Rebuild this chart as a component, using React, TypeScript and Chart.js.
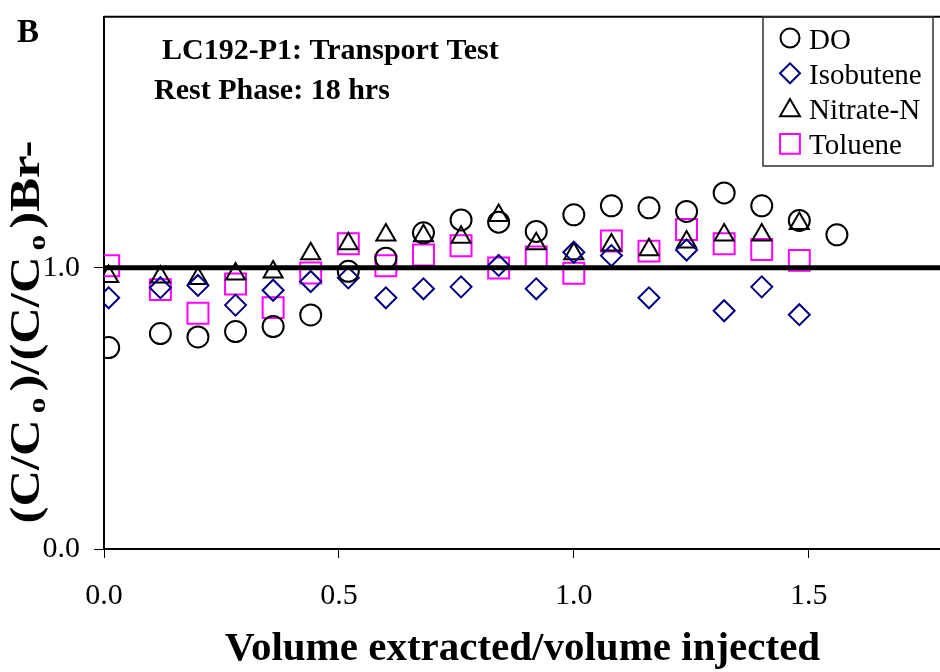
import { useEffect, useRef } from 'react';
import { Chart, registerables } from 'chart.js';
import type { Plugin } from 'chart.js';
import { drawPoint } from 'chart.js/helpers';

Chart.register(...registerables);

// volume extracted / volume injected
const volumeRatio = [0.01, 0.12, 0.2, 0.28, 0.36, 0.44, 0.52, 0.6, 0.68, 0.76, 0.84, 0.92, 1.0, 1.08, 1.16, 1.24, 1.32, 1.4, 1.48, 1.56];

// (C/Co)/(C/Co)Br- per series
const doValues = [0.716, 0.766, 0.754, 0.773, 0.791, 0.832, 0.987, 1.034, 1.124, 1.17, 1.162, 1.129, 1.188, 1.22, 1.213, 1.2, 1.266, 1.22, 1.168, 1.117];
const isobuteneValues = [0.893, 0.929, 0.937, 0.867, 0.92, 0.951, 0.964, 0.893, 0.925, 0.932, 1.008, 0.925, 1.055, 1.043, 0.893, 1.063, 0.847, 0.932, 0.833];
const nitrateValues = [0.969, 0.967, 0.962, 0.978, 0.985, 1.05, 1.085, 1.116, 1.114, 1.108, 1.186, 1.085, 1.05, 1.081, 1.064, 1.091, 1.116, 1.116, 1.157];
const tolueneValues = [1.007, 0.922, 0.838, 0.942, 0.858, 0.981, 1.085, 1.007, 1.045, 1.078, 0.999, 1.038, 0.98, 1.095, 1.059, 1.136, 1.085, 1.065, 1.026];

// reference line C/Co = 1
const refX = [0, 1.782];
const refY = [1, 1];

const xTicks = [0, 0.5, 1.0, 1.5];
const yTicks = [0, 1.0];
const X_MAX = 1.782;
const Y_MAX = 1.892;

const SERIF = '"Liberation Serif", "Times New Roman", serif';

const pts = (vals: number[]) => vals.map((y, i) => ({ x: volumeRatio[i], y }));

// chart.js adds room for the end labels; the plot here runs to the canvas edge
const noPad = (s: any) => {
  s.paddingTop = 0;
  s.paddingBottom = 0;
  s.paddingLeft = 0;
  s.paddingRight = 0;
};

const decorations: Plugin = {
  id: 'decorations',
  beforeDatasetsDraw(chart) {
    const { ctx, chartArea } = chart;
    ctx.save();
    ctx.strokeStyle = '#000';
    ctx.lineWidth = 2;
    ctx.beginPath();
    ctx.moveTo(chartArea.left, chartArea.top);
    ctx.lineTo(chartArea.right, chartArea.top);
    ctx.stroke();
    ctx.restore();
  },
  afterDraw(chart) {
    const { ctx } = chart;
    ctx.save();
    ctx.fillStyle = '#000';
    ctx.textBaseline = 'alphabetic';
    ctx.textAlign = 'left';

    // panel letter and annotation
    ctx.font = `bold 33px ${SERIF}`;
    ctx.fillText('B', 17, 42);
    ctx.font = `bold 30px ${SERIF}`;
    ctx.fillText('LC192-P1: Transport Test', 162, 59);
    ctx.fillText('Rest Phase: 18 hrs', 154, 99);

    // y axis title with subscripts
    const parts = [
      { t: '(C/C', sub: false },
      { t: 'o', sub: true },
      { t: ')/(C/C', sub: false },
      { t: 'o', sub: true },
      { t: ')Br-', sub: false },
    ];
    const mainFont = `bold 42px ${SERIF}`;
    const subFont = `bold 26px ${SERIF}`;
    const gap = 5;
    let total = 0;
    const widths = parts.map((p) => {
      ctx.font = p.sub ? subFont : mainFont;
      const w = ctx.measureText(p.t).width + (p.sub ? gap * 2 : 0);
      total += w;
      return w;
    });
    const k = 383 / total;
    ctx.translate(39, 332);
    ctx.rotate(-Math.PI / 2);
    ctx.scale(k, 1);
    let cx = -total / 2;
    parts.forEach((p, i) => {
      ctx.font = p.sub ? subFont : mainFont;
      ctx.fillText(p.t, cx + (p.sub ? gap : 0), p.sub ? 6 : 0);
      cx += widths[i];
    });
    ctx.restore();

    // legend box
    ctx.save();
    ctx.strokeStyle = '#333';
    ctx.lineWidth = 1.5;
    ctx.strokeRect(763, 17, 170, 149);
    const items = chart.data.datasets.filter((d: any) => d.label);
    const legendRadius: Record<string, number> = { circle: 9.5, rectRot: 10, triangle: 11.5, rect: 14 };
    items.forEach((d: any, i: number) => {
      const cy = 38 + i * 35.3;
      ctx.strokeStyle = d.pointBorderColor;
      ctx.fillStyle = 'rgba(0,0,0,0)';
      ctx.lineWidth = 2;
      drawPoint(ctx, {
        pointStyle: d.pointStyle,
        radius: legendRadius[d.pointStyle],
        borderWidth: 2,
        rotation: 0,
      } as any, 790, d.pointStyle === 'triangle' ? cy + 2 : cy);
      ctx.fillStyle = '#000';
      ctx.font = `29px ${SERIF}`;
      ctx.fillText(d.label, 809, cy + 10.5);
    });
    ctx.restore();
  },
};

const App = () => {
  const canvasRef = useRef<HTMLCanvasElement>(null);
  const chartRef = useRef<Chart | null>(null);

  useEffect(() => {
    if (!canvasRef.current) return;
    if (chartRef.current) chartRef.current.destroy();

    const marker = (label: string, values: number[], style: string, color: string, radius: number) => ({
      label,
      data: pts(values),
      pointStyle: style,
      pointRadius: radius,
      pointBorderWidth: 2,
      pointBorderColor: color,
      pointBackgroundColor: 'rgba(0,0,0,0)',
      order: 1,
    });

    chartRef.current = new Chart(canvasRef.current, {
      type: 'scatter',
      data: {
        datasets: [
          marker('DO', doValues, 'circle', '#000000', 10.5),
          marker('Isobutene', isobuteneValues, 'rectRot', '#000080', 10.5),
          marker('Nitrate-N', nitrateValues, 'triangle', '#000000', 11),
          marker('Toluene', tolueneValues, 'rect', '#FF00FF', 14.8),
          {
            type: 'line',
            label: '',
            data: refX.map((x, i) => ({ x, y: refY[i] })),
            borderColor: '#000',
            borderWidth: 5,
            pointRadius: 0,
            order: 0,
          } as any,
        ],
      },
      options: {
        responsive: false,
        animation: false,
        events: [],
        layout: { padding: { top: 8, left: 0, right: 0, bottom: 0 } },
        plugins: {
          legend: { display: false },
          tooltip: { enabled: false },
        },
        scales: {
          x: {
            type: 'linear',
            min: 0,
            max: X_MAX,
            afterBuildTicks: (s: any) => { s.ticks = xTicks.map((value) => ({ value })); },
            afterFit: (s: any) => { s.height = 123; noPad(s); },
            ticks: {
              color: '#000',
              font: { family: SERIF, size: 30 },
              padding: 20,
              maxRotation: 0,
              callback: (v: any) => Number(v).toFixed(1),
            },
            grid: { drawOnChartArea: false, drawTicks: true, tickLength: 9, tickColor: '#000', tickWidth: 1 },
            border: { color: '#000', width: 2 },
            title: {
              display: true,
              text: 'Volume extracted/volume injected',
              color: '#000',
              font: { family: SERIF, size: 41, weight: 'bold' },
              padding: { top: 0, bottom: -2 },
            },
          },
          y: {
            type: 'linear',
            min: 0,
            max: Y_MAX,
            afterBuildTicks: (s: any) => { s.ticks = yTicks.map((value) => ({ value })); },
            afterFit: (s: any) => { s.width = 104; noPad(s); },
            ticks: {
              color: '#000',
              font: { family: SERIF, size: 30 },
              padding: 14,
              callback: (v: any) => Number(v).toFixed(1),
            },
            grid: { drawOnChartArea: false, drawTicks: true, tickLength: 10, tickColor: '#000', tickWidth: 1 },
            border: { color: '#000', width: 2 },
          },
        },
      },
      plugins: [decorations],
    });

    return () => {
      if (chartRef.current) {
        chartRef.current.destroy();
        chartRef.current = null;
      }
    };
  }, []);

  // the plot is cut at the right edge of the picture: the canvas is wider than the frame
  return (
    <div style={{ position: 'fixed', left: 0, top: 0, width: 940, height: 672, overflow: 'hidden', background: '#fff' }}>
      <canvas ref={canvasRef} width={958} height={672} style={{ display: 'block' }} />
    </div>
  );
};

export default App;
